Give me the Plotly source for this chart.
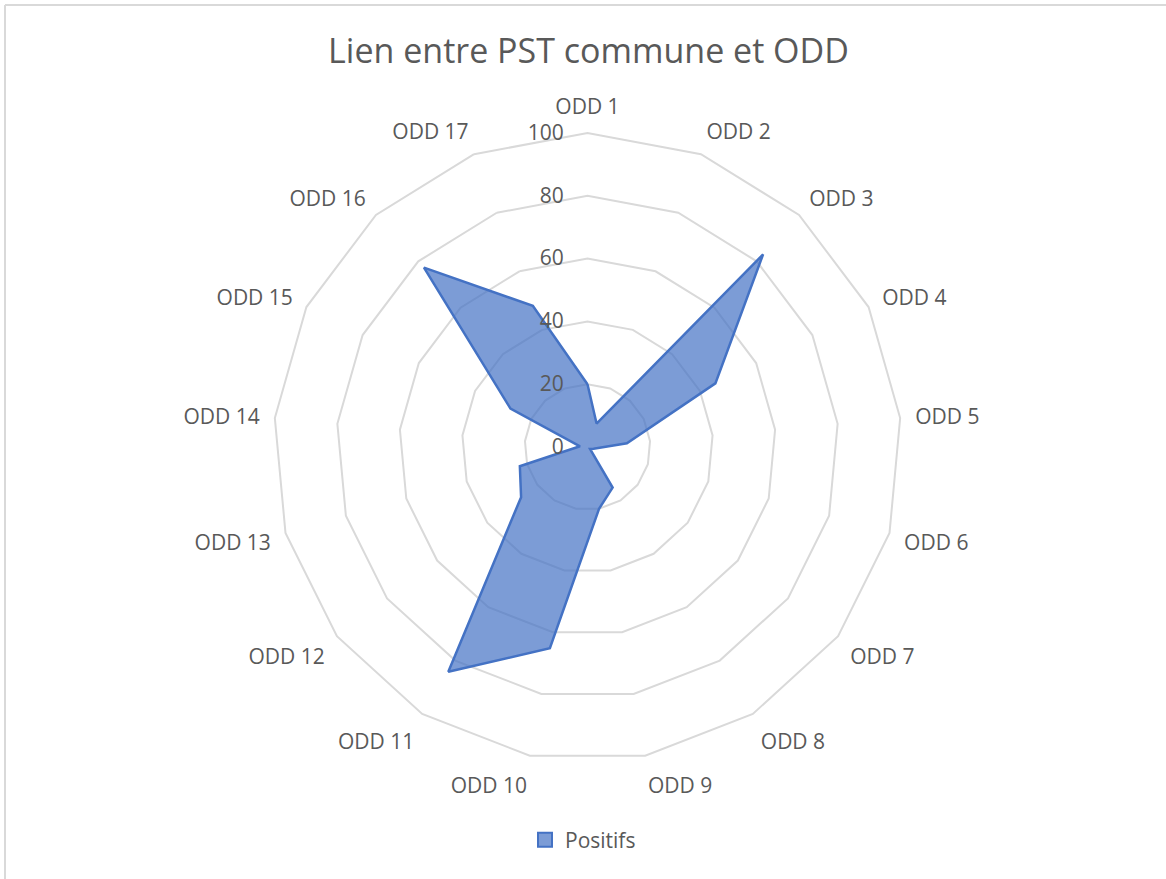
import plotly.graph_objects as go

categories = [f"ODD {i}" for i in range(1, 18)]
positifs = [20, 8, 83, 45.5, 12.6, 2, 1, 15.2, 20, 65.2, 84.2, 26.5, 22.4, 2.4, 27.4, 77.3, 48.2]
radial_ticks = [0, 20, 40, 60, 80, 100]

W, H = 1166, 879
cx, cy, R = 587.5, 447, 314

fill_col = "rgba(68,114,196,0.70)"
line_col = "#4472C4"

fig = go.Figure()
fig.add_trace(go.Scatterpolar(
    r=positifs + [positifs[0]],
    theta=categories + [categories[0]],
    mode="lines",
    fill="toself",
    fillcolor=fill_col,
    line=dict(color=line_col, width=2.5),
    name="Positifs",
    showlegend=False,
    hoverinfo="skip",
))
# legend entry with a square swatch
fig.add_trace(go.Scatterpolar(
    r=[None], theta=[categories[0]],
    mode="markers",
    marker=dict(symbol="square", size=14, color=fill_col, line=dict(color=line_col, width=2)),
    name="Positifs",
    showlegend=True,
))

font_fam = "Open Sans, sans-serif"
grey = "#595959"

fig.update_layout(
    width=W, height=H,
    paper_bgcolor="white",
    plot_bgcolor="white",
    margin=dict(l=0, r=0, t=0, b=0),
    title=dict(text="Lien entre PST commune et ODD", x=588.5 / W, xanchor="center",
               y=1 - 51 / H, yanchor="middle",
               font=dict(family=font_fam, size=34, color=grey)),
    polar=dict(
        domain=dict(x=[(cx - R) / W, (cx + R) / W], y=[(H - cy - R) / H, (H - cy + R) / H]),
        bgcolor="white",
        gridshape="linear",
        angularaxis=dict(
            direction="clockwise", rotation=90,
            showgrid=False,
            showline=True, linecolor="#D9D9D9", linewidth=2,
            ticks="outside", ticklen=10, tickcolor="rgba(0,0,0,0)",
            tickfont=dict(family=font_fam, size=21, color=grey),
        ),
        radialaxis=dict(
            range=[0, 100],
            tickvals=radial_ticks,
            ticktext=[str(v) for v in radial_ticks],
            angle=90, side="counterclockwise", tickangle=90,
            showline=False,
            gridcolor="#D9D9D9", gridwidth=2,
            ticks="outside", ticklen=16, tickcolor="rgba(0,0,0,0)",
            tickfont=dict(family=font_fam, size=21, color=grey),
        ),
    ),
    legend=dict(orientation="h", x=0.5, xanchor="center", y=1 - 840 / H, yanchor="middle",
                font=dict(family=font_fam, size=21, color=grey), bgcolor="rgba(0,0,0,0)"),
    shapes=[
        dict(type="line", xref="paper", yref="paper", x0=5 / W, x1=5 / W, y0=0, y1=1 - 5 / H,
             line=dict(color="#D9D9D9", width=2)),
        dict(type="line", xref="paper", yref="paper", x0=5 / W, x1=1, y0=1 - 5 / H, y1=1 - 5 / H,
             line=dict(color="#D9D9D9", width=2)),
    ],
)

fig.write_html("out.html", config={"displayModeBar": False},
               post_script="document.body.style.margin='0px';")
